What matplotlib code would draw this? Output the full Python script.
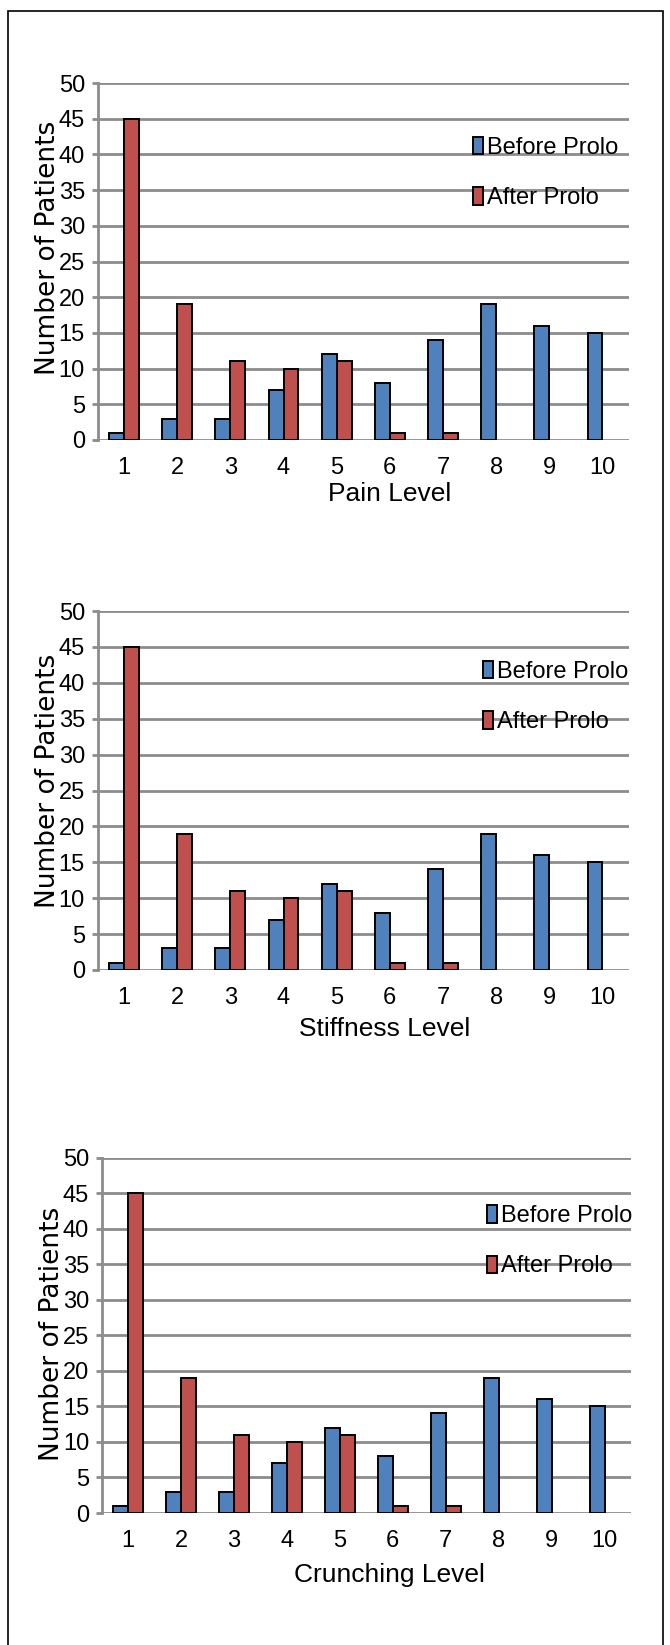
import matplotlib
matplotlib.use("Agg")
import matplotlib.pyplot as plt
import numpy as np
from matplotlib.patches import Rectangle

levels = [1, 2, 3, 4, 5, 6, 7, 8, 9, 10]
before_prolo = [1, 3, 3, 7, 12, 8, 14, 19, 16, 15]
after_prolo = [45, 19, 11, 10, 11, 1, 1, 0, 0, 0]
xlabels = ["Pain Level", "Stiffness Level", "Crunching Level"]
series_names = ["Before Prolo", "After Prolo"]
yticks = [0, 5, 10, 15, 20, 25, 30, 35, 40, 45, 50]

BLUE = "#4F81BD"
RED = "#C0504D"
GRID = "#8C8C8C"
NARROW = ["Liberation Sans", "DejaVu Sans"]

W, H = 670, 1645
fig = plt.figure(figsize=(W / 100, H / 100), dpi=100)

# axes rectangles in pixels: left, top, right, bottom
rects = [
    (97.5, 83, 629, 440),
    (97.5, 611, 629, 970),
    (101.7, 1157.5, 631, 1513),
]
xlab_pos = [(0.55, -0.118), (0.541, -0.13), (0.543, -0.141)]
ylab_pos = [(-0.069, 0.539), (-0.069, 0.526), (-0.069, 0.504)]
leg_pos = [(0.726, 0.849), (0.745, 0.861), (0.747, 0.866)]

x = np.array(levels, dtype=float)
bw = 0.28
for i, (l, t, r, b) in enumerate(rects):
    ax = fig.add_axes([l / W, 1 - b / H, (r - l) / W, (b - t) / H])
    ax.set_axisbelow(True)
    b1 = ax.bar(x - bw / 2, before_prolo, width=bw, color=BLUE,
                edgecolor="black", linewidth=1.4, label=series_names[0])
    b2 = ax.bar(x + bw / 2, after_prolo, width=bw, color=RED,
                edgecolor="black", linewidth=1.4, label=series_names[1])
    for cont in (b1, b2):
        for p in cont.patches:
            if p.get_height() == 0:
                p.set_linewidth(0)
    ax.set_xlim(0.5, 10.5)
    ax.set_ylim(0, 50)
    ax.set_yticks(yticks)
    ax.set_xticks(levels)
    ax.set_xticklabels([str(v) for v in levels], family=NARROW, fontsize=17)
    ax.set_yticklabels([str(v) for v in yticks], family=NARROW, fontsize=17)
    ax.yaxis.grid(True, color=GRID, linewidth=2.0)
    ax.xaxis.grid(False)
    for s in ["top", "right", "bottom"]:
        ax.spines[s].set_visible(False)
    ax.spines["left"].set_color(GRID)
    ax.spines["left"].set_linewidth(2.0)
    ax.tick_params(axis="y", direction="out", length=4, width=2, color=GRID, pad=5)
    ax.tick_params(axis="x", length=0, pad=12)
    ax.set_xlabel(xlabels[i], family=NARROW, fontsize=19)
    ax.xaxis.set_label_coords(*xlab_pos[i])
    ax.set_ylabel("Number of Patients", family="DejaVu Sans", fontsize=19)
    ax.yaxis.set_label_coords(*ylab_pos[i])
    lx, ly = leg_pos[i]
    ax.legend(handles=[b1, b2], loc="upper left",
              bbox_to_anchor=(lx - 0.02, ly),
              frameon=False, prop={"family": NARROW, "size": 17},
              handlelength=0.45, handleheight=0.75, handletextpad=0.15,
              labelspacing=1.2, borderaxespad=0, borderpad=0)

fig.add_artist(Rectangle((7.5 / W, -0.01), (662.5 - 7.5) / W, 1.01 - 10.5 / H,
                         transform=fig.transFigure, fill=False,
                         edgecolor="black", linewidth=1.2))

fig.savefig("out.png", dpi=100)
